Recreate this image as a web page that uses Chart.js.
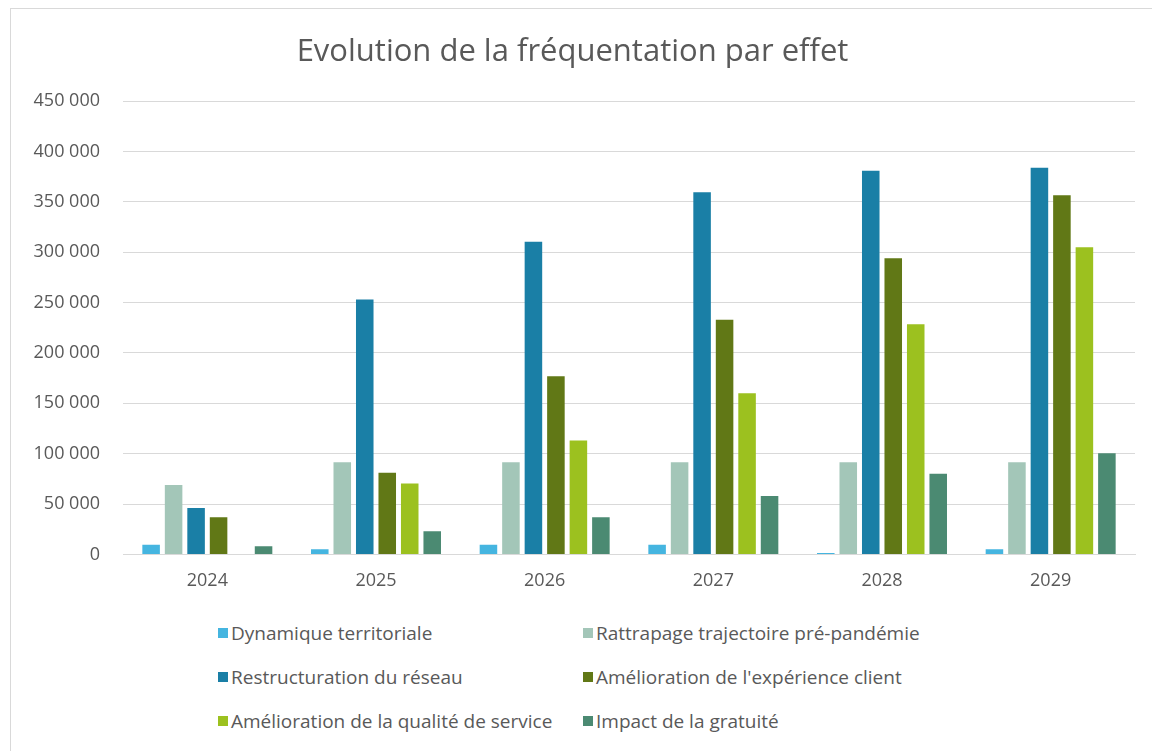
<!DOCTYPE html>
<html>
<head>
<meta charset="utf-8">
<script src="https://cdn.jsdelivr.net/npm/chart.js@4"></script>
<style>
  body { margin: 0; background: #fff; font-family: "Open Sans", sans-serif; }
  #wrap { position: absolute; left: 0; top: 0; width: 1152px; height: 751px; overflow: hidden; }
  #frame { position: absolute; left: 10px; top: 8px; width: 1160px; height: 760px; border: 1px solid #d9d9d9; }
  #chartBox { position: absolute; left: 0; top: 0; width: 1152px; height: 600px; }
  #legend { position: absolute; left: 218px; top: 621px; display: grid; grid-template-columns: 365px auto; row-gap: 20px; font-size: 19px; color: #595959; }
  #legend .item { display: flex; align-items: center; height: 24px; white-space: nowrap; }
  #legend .box { width: 10px; height: 10px; margin-right: 3px; }
</style>
</head>
<body>
<div id="wrap">
  <div id="frame"></div>
  <div id="chartBox"><canvas id="chart"></canvas></div>
  <div id="legend"></div>
</div>
<script>
const years = ["2024", "2025", "2026", "2027", "2028", "2029"];
const dynamiqueTerritoriale = [9500, 5000, 9500, 9500, 1500, 5000];
const rattrapage = [69000, 91500, 91500, 91500, 91500, 91500];
const restructuration = [46000, 253000, 310500, 359500, 381000, 384000];
const experienceClient = [37000, 81000, 177000, 233000, 294000, 356500];
const qualiteService = [0, 70500, 113000, 160000, 228500, 305000];
const gratuite = [8000, 23000, 37000, 58000, 80000, 100500];

const chartCanvas = document.getElementById("chart");
const legendBox = document.getElementById("legend");

const fmt = (v) => String(v).replace(/\B(?=(\d{3})+(?!\d))/g, " ");

const chart = new Chart(chartCanvas, {
  type: "bar",
  data: {
    labels: years,
    datasets: [
      { label: "Dynamique territoriale", data: dynamiqueTerritoriale, backgroundColor: "#45b5e0" },
      { label: "Rattrapage trajectoire pré-pandémie", data: rattrapage, backgroundColor: "#a3c6b8" },
      { label: "Restructuration du réseau", data: restructuration, backgroundColor: "#1a7fa6" },
      { label: "Amélioration de l'expérience client", data: experienceClient, backgroundColor: "#617816" },
      { label: "Amélioration de la qualité de service", data: qualiteService, backgroundColor: "#9cc11f" },
      { label: "Impact de la gratuité", data: gratuite, backgroundColor: "#4b8a72" },
    ],
  },
  options: {
    responsive: true,
    maintainAspectRatio: false,
    animation: false,
    categoryPercentage: 0.8,
    barPercentage: 0.78,
    layout: { padding: { left: 10, right: 17, top: 34, bottom: 0 } },
    plugins: {
      legend: { display: false },
      tooltip: { enabled: false },
      title: {
        display: true,
        text: "Evolution de la fréquentation par effet",
        color: "#595959",
        font: { family: "Open Sans", size: 31, weight: "normal" },
        padding: { top: 0, bottom: 30 },
      },
    },
    scales: {
      x: {
        grid: { display: false },
        border: { color: "#d9d9d9" },
        ticks: { color: "#595959", padding: 8, font: { family: "Open Sans", size: 18 } },
      },
      y: {
        min: 0,
        max: 450000,
        afterFit: (scale) => { scale.width = 113; },
        grid: { color: "#d9d9d9", drawTicks: false },
        border: { display: false },
        ticks: {
          stepSize: 50000,
          color: "#595959",
          padding: 23,
          font: { family: "Open Sans", size: 18 },
          callback: (v) => fmt(v),
        },
      },
    },
  },
});

chart.data.datasets.forEach((ds) => {
  const item = document.createElement("div");
  item.className = "item";
  const box = document.createElement("span");
  box.className = "box";
  box.style.background = ds.backgroundColor;
  const text = document.createElement("span");
  text.textContent = ds.label;
  item.appendChild(box);
  item.appendChild(text);
  legendBox.appendChild(item);
});
</script>
</body>
</html>
